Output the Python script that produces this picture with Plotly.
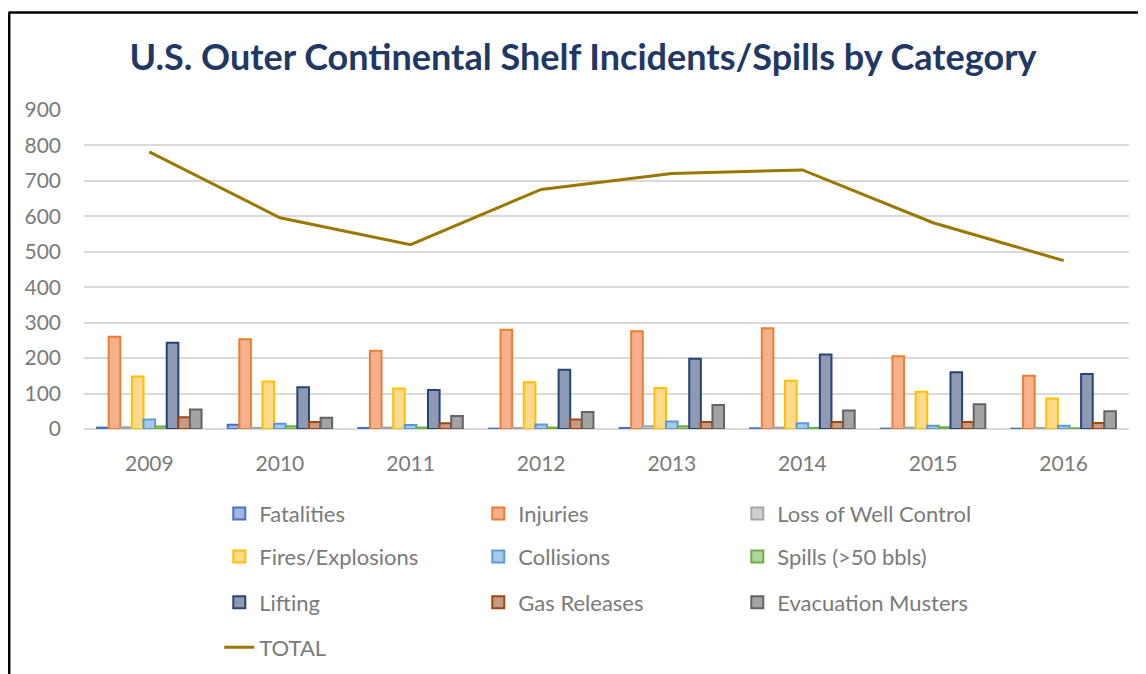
import plotly.graph_objects as go

years = ["2009", "2010", "2011", "2012", "2013", "2014", "2015", "2016"]

fatalities = [4, 12, 3, 1, 3, 2, 1, 1]
injuries = [260, 253, 221, 280, 276, 284, 205, 150]
loss_of_well_control = [5, 3, 4, 3, 8, 4, 4, 3]
fires_explosions = [148, 134, 114, 132, 116, 136, 105, 86]
collisions = [27, 15, 11, 13, 21, 16, 9, 9]
spills = [7, 8, 4, 4, 8, 3, 5, 2]
lifting = [243, 118, 110, 167, 198, 210, 160, 155]
gas_releases = [33, 20, 16, 27, 20, 20, 20, 17]
evacuation_musters = [55, 32, 37, 48, 68, 52, 70, 50]
total = [782, 596, 520, 676, 721, 731, 582, 475]

series = [
    ("Fatalities", fatalities, "#A3B6E0", "#4472C4", "legend"),
    ("Injuries", injuries, "#F6B08C", "#ED7D31", "legend"),
    ("Loss of Well Control", loss_of_well_control, "#D0D0D0", "#A5A5A5", "legend"),
    ("Fires/Explosions", fires_explosions, "#FFDA8A", "#FFC000", "legend2"),
    ("Collisions", collisions, "#A9C9EB", "#5B9BD5", "legend2"),
    ("Spills (>50 bbls)", spills, "#AED59A", "#70AD47", "legend2"),
    ("Lifting", lifting, "#8E99B4", "#264478", "legend3"),
    ("Gas Releases", gas_releases, "#C69A88", "#9E480E", "legend3"),
    ("Evacuation Musters", evacuation_musters, "#A3A3A3", "#636363", "legend3"),
]

FONT = "Lato"
GREY = "#7A7A7A"

# page offset of the figure inside the html body
OFF = 8
W, H = 1146, 674
PL, PR, PT, PB = 83.6, 1129.4, 109.7, 429.2  # plot area in page pixels
PW, PH = PR - PL, PB - PT


def px_x(p):
    return (p - PL) / PW


def px_y(p):
    return (PB - p) / PH


fig = go.Figure()
for name, vals, fill, line, lg in series:
    fig.add_trace(go.Bar(
        x=years, y=vals, name=name, legend=lg,
        marker=dict(color=fill, line=dict(color=line, width=2)),
    ))

fig.add_trace(go.Scatter(
    x=years, y=total, name="TOTAL", mode="lines", legend="legend4",
    line=dict(color="#9C7700", width=3),
))


def leg(py):
    return dict(
        orientation="h", x=px_x(264 - 45), y=px_y(py), xanchor="left", yanchor="middle",
        xref="paper", yref="paper",
        entrywidth=214, entrywidthmode="pixels",
        font=dict(family=FONT, size=22, color=GREY),
        bgcolor="rgba(0,0,0,0)", traceorder="normal",
    )


fig.update_layout(
    width=W, height=H,
    margin=dict(l=PL - OFF, r=W + OFF - PR, t=PT - OFF, b=H - (PB - OFF)),
    paper_bgcolor="white", plot_bgcolor="white",
    barmode="group", bargap=0.2, bargroupgap=0,
    title=dict(
        text="<b>U.S. Outer Continental Shelf Incidents/Spills by Category</b>",
        x=(583 - OFF) / W, xref="container", xanchor="center",
        y=1 - (57 - OFF) / H, yref="container", yanchor="middle",
        font=dict(family=FONT, size=36, color="#1F3864"),
    ),
    xaxis=dict(
        showgrid=False, showline=False, ticks="", ticklabelstandoff=20,
        tickfont=dict(family=FONT, size=21, color=GREY),
    ),
    yaxis=dict(
        range=[0, 900], dtick=100, showgrid=True, gridcolor="#D9D9D9", gridwidth=2,
        zeroline=True, zerolinecolor="#D9D9D9", zerolinewidth=2,
        showline=False, ticks="", ticklabelstandoff=22,
        tickfont=dict(family=FONT, size=21, color=GREY),
    ),
    legend=leg(514),
    legend2=leg(557),
    legend3=leg(603),
    legend4=leg(648),
    showlegend=True,
    shapes=[
        dict(type="line", xref="paper", yref="paper",
             x0=px_x(OFF + 0.5), x1=px_x(OFF + 0.5),
             y0=px_y(700), y1=px_y(12),
             line=dict(color="black", width=3)),
        dict(type="line", xref="paper", yref="paper",
             x0=px_x(OFF), x1=px_x(1200),
             y0=px_y(12), y1=px_y(12),
             line=dict(color="black", width=2.5)),
    ],
)

fig.write_html("out.html")
